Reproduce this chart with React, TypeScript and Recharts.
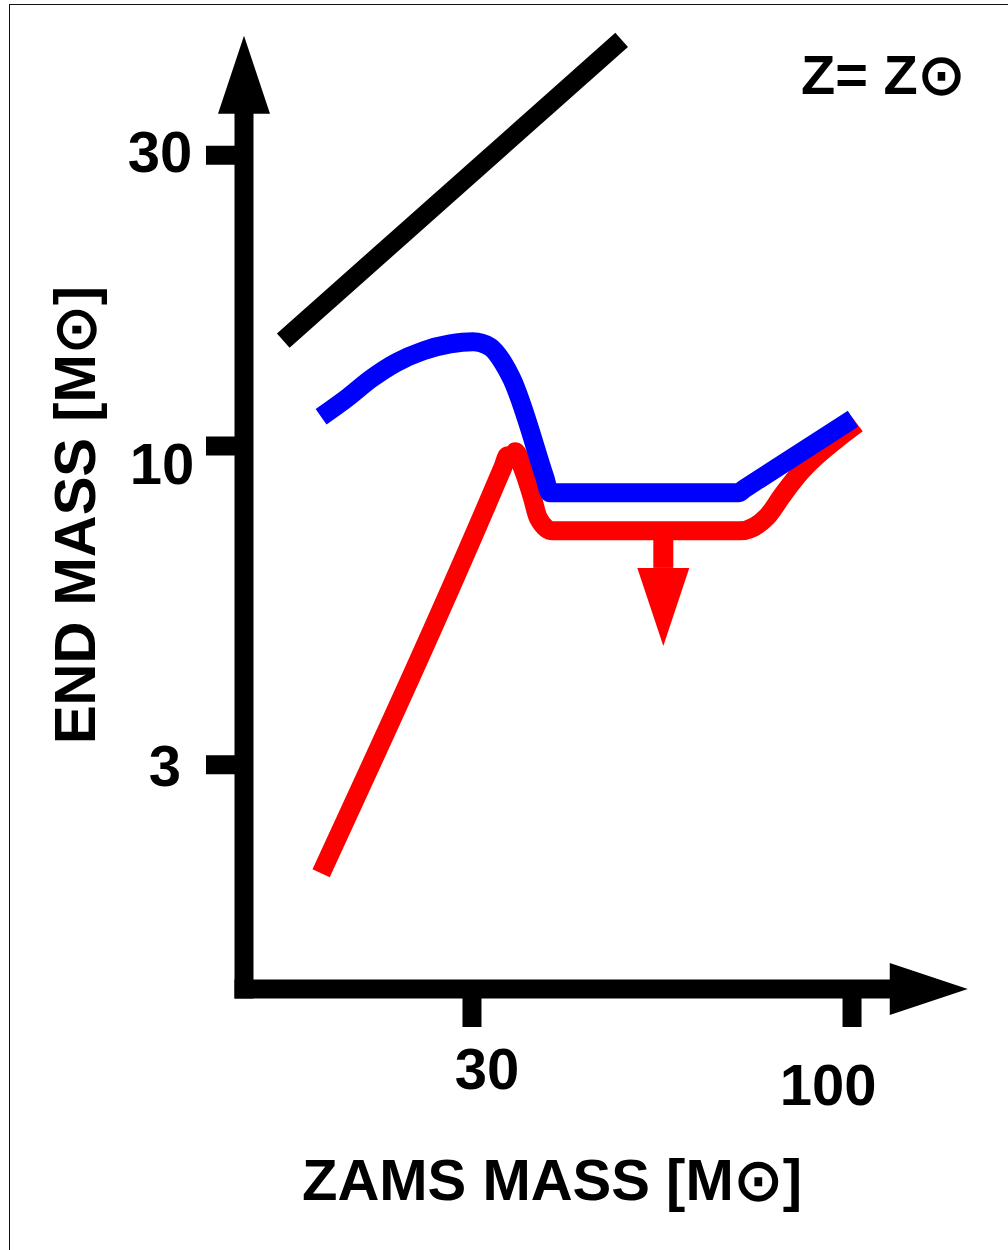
import { LineChart, Line, XAxis, YAxis, ReferenceLine, ReferenceDot, Label } from 'recharts';

// ZAMS mass (x) vs end mass (y), both in solar masses
const BLACK_ZAMS = [16.5, 48.2];
const BLACK_END = [14.9, 46.4];

const BLUE_ZAMS = [18.6, 20.2, 21.8, 23.6, 25.7, 28.0, 30.1, 31.8, 33.1, 34.0, 37.8, 38.4, 69.7, 71.2, 100.3];
const BLUE_END = [11.17, 11.99, 12.9, 13.71, 14.33, 14.71, 14.83, 14.54, 13.71, 12.93, 8.87, 8.38, 8.38, 8.52, 11.09];

const RED_ZAMS = [18.6, 33.1, 33.6, 34.0, 34.4, 35.3, 36.3, 37.0, 38.7, 70.1, 76.4, 80.3, 84.8, 88.9, 94.7, 101.6];
const RED_END = [1.99, 9.24, 9.64, 9.57, 9.79, 9.14, 8.26, 7.63, 7.26, 7.26, 7.66, 8.32, 9.04, 9.57, 10.2, 10.88];

// upper-limit arrow hanging from the red plateau
const LIMIT_ZAMS = 55;
const LIMIT_FROM = 7.26;
const LIMIT_TO = 6.31;

const X_TICKS = [30, 100];
const Y_TICKS = [3, 10, 30];

// axis ranges (log scales); the axes end in arrows
const X_MIN = 14.57;
const X_MAX = 144.4;
const Y_MIN = 1.285;
const Y_MAX = 47.1;
const X_ARROW = 112.7;
const Y_ARROW = 35.1;

const FONT = '"Liberation Sans", Arial, sans-serif';
const AXIS_W = 19;
const LINE_W = 19;

// little hand placed offsets of the tick labels [dx, dy]
const Y_LABEL_SHIFT: Record<number, [number, number]> = { 30: [-2, -4], 10: [0, 17], 3: [3, 1] };
const X_LABEL_SHIFT: Record<number, [number, number]> = { 30: [15, 21], 100: [-24, 37] };

const toPoints = (xs: number[], ys: number[]) => xs.map((x, i) => ({ x, y: ys[i] }));

const textStyle = { fontFamily: FONT, fontWeight: 700, fill: '#000' };

function YTick({ x, y, payload }: any) {
    const [dx, dy] = Y_LABEL_SHIFT[payload.value] ?? [0, 0];
    return (
        <text x={x + dx} y={y + dy} dy="0.355em" textAnchor="middle" fontSize={58} {...textStyle}>
            {payload.value}
        </text>
    );
}

function XTick({ x, y, payload }: any) {
    const [dx, dy] = X_LABEL_SHIFT[payload.value] ?? [0, 0];
    return (
        <text x={x + dx} y={y + dy} dy="0.71em" textAnchor="middle" fontSize={58} {...textStyle}>
            {payload.value}
        </text>
    );
}

const XTitle = () => (
    <text x={552} y={1200} textAnchor="middle" fontSize={58} {...textStyle}>
        ZAMS MASS [M⊙]
    </text>
);

const YTitle = () => (
    <text x={95} y={515} transform="rotate(-90, 95, 515)" textAnchor="middle" fontSize={58} {...textStyle}>
        END MASS [M⊙]
    </text>
);

const ZNote = () => (
    <text x={801} y={94} fontSize={56} {...textStyle}>
        Z= Z⊙
    </text>
);

const upArrow = ({ cx, cy }: any) => (
    <path d={`M${cx - 26},${cy} L${cx + 26},${cy} L${cx},${cy - 78} Z`} fill="#000" />
);
const rightArrow = ({ cx, cy }: any) => (
    <path d={`M${cx},${cy - 26} L${cx},${cy + 26} L${cx + 78},${cy} Z`} fill="#000" />
);
const downArrow = ({ cx, cy }: any) => (
    <path d={`M${cx - 26},${cy} L${cx + 26},${cy} L${cx},${cy + 78} Z`} fill="#ff0000" />
);

export default function App() {
    return (
        <div style={{ position: 'absolute', left: 0, top: 0, width: 1008, height: 1250, background: '#fff' }}>
            <div
                style={{
                    position: 'absolute', left: 9, top: 4, right: -4, bottom: -4,
                    borderLeft: '1.5px solid #111', borderTop: '1.5px solid #111',
                }}
            />
            <LineChart width={1008} height={1250} margin={{ top: 36, right: 40, bottom: 161, left: 144 }}>
                <XAxis
                    type="number"
                    dataKey="x"
                    scale="log"
                    domain={[X_MIN, X_MAX]}
                    ticks={X_TICKS}
                    height={100}
                    axisLine={false}
                    tickLine={{ stroke: '#000', strokeWidth: AXIS_W }}
                    tickSize={38}
                    tickMargin={0}
                    tick={<XTick />}
                >
                    <Label content={XTitle} />
                </XAxis>
                <YAxis
                    type="number"
                    dataKey="y"
                    scale="log"
                    domain={[Y_MIN, Y_MAX]}
                    ticks={Y_TICKS}
                    width={100}
                    axisLine={false}
                    tickLine={{ stroke: '#000', strokeWidth: AXIS_W }}
                    tickSize={38}
                    tickMargin={44}
                    tick={<YTick />}
                >
                    <Label content={YTitle} />
                    <Label content={ZNote} />
                </YAxis>

                <ReferenceLine
                    segment={[{ x: X_MIN, y: Y_MIN }, { x: X_MIN, y: Y_ARROW }]}
                    stroke="#000" strokeWidth={AXIS_W} strokeLinecap="square" ifOverflow="visible"
                />
                <ReferenceLine
                    segment={[{ x: X_MIN, y: Y_MIN }, { x: X_ARROW, y: Y_MIN }]}
                    stroke="#000" strokeWidth={AXIS_W} strokeLinecap="square" ifOverflow="visible"
                />
                <ReferenceDot x={X_MIN} y={Y_ARROW} r={1} shape={upArrow} ifOverflow="visible" />
                <ReferenceDot x={X_ARROW} y={Y_MIN} r={1} shape={rightArrow} ifOverflow="visible" />

                <Line
                    data={toPoints(BLACK_ZAMS, BLACK_END)}
                    dataKey="y"
                    type="linear"
                    stroke="#000"
                    strokeWidth={LINE_W}
                    dot={false}
                    activeDot={false}
                    isAnimationActive={false}
                />
                <Line
                    data={toPoints(RED_ZAMS, RED_END)}
                    dataKey="y"
                    type="monotone"
                    stroke="#ff0000"
                    strokeWidth={LINE_W}
                    dot={false}
                    activeDot={false}
                    isAnimationActive={false}
                />
                <Line
                    data={toPoints(BLUE_ZAMS, BLUE_END)}
                    dataKey="y"
                    type="monotone"
                    stroke="#0000ff"
                    strokeWidth={LINE_W}
                    dot={false}
                    activeDot={false}
                    isAnimationActive={false}
                />

                <ReferenceLine
                    segment={[{ x: LIMIT_ZAMS, y: LIMIT_FROM }, { x: LIMIT_ZAMS, y: LIMIT_TO }]}
                    stroke="#ff0000" strokeWidth={20} ifOverflow="visible"
                />
                <ReferenceDot x={LIMIT_ZAMS} y={LIMIT_TO} r={1} shape={downArrow} ifOverflow="visible" />
            </LineChart>
        </div>
    );
}
